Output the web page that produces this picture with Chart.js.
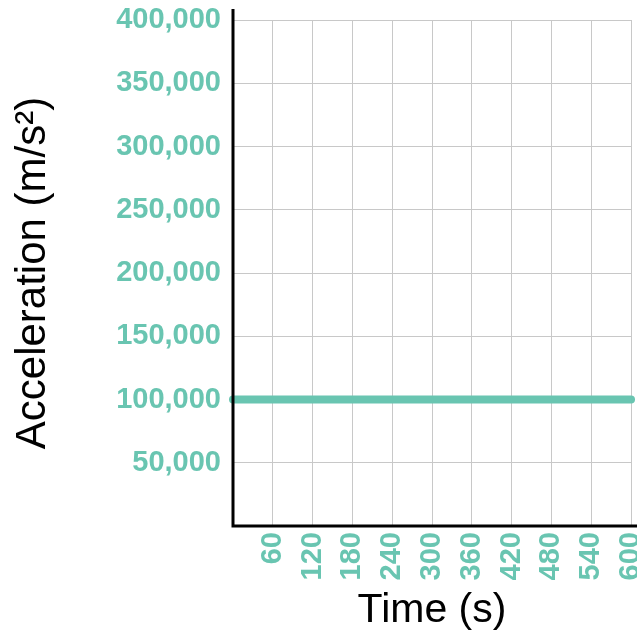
<!DOCTYPE html>
<html>
<head>
<meta charset="utf-8">
<style>
  html, body { margin: 0; padding: 0; background: #ffffff; }
  #wrap { width: 637px; height: 635px; }
</style>
<script src="https://cdn.jsdelivr.net/npm/chart.js@4/dist/chart.umd.min.js"></script>
</head>
<body>
<div id="wrap"><canvas id="chart" width="637" height="635"></canvas></div>
<script>
// Time samples (s) and the constant acceleration (m/s²) at each of them
const timeSeconds = [0, 60, 120, 180, 240, 300, 360, 420, 480, 540, 600];
const acceleration = [100000, 100000, 100000, 100000, 100000, 100000, 100000, 100000, 100000, 100000, 100000];

// Axis ranges and tick spacing
const xRange = [0, 600];
const xStep = 60;
const yRange = [0, 400000];
const yStep = 50000;

const teal = '#69c5b1';
const fontFamily = '"Liberation Sans", Arial, sans-serif';

const points = timeSeconds.map((t, i) => ({ x: t, y: acceleration[i] }));

// Black axis lines: the vertical one runs a little above the top gridline,
// the horizontal one runs out to the right edge of the canvas.
const axisLines = {
  id: 'axisLines',
  afterDraw(chart) {
    const { ctx, chartArea, scales } = chart;
    const x0 = scales.x.getPixelForValue(xRange[0]);
    const y0 = scales.y.getPixelForValue(yRange[0]);
    ctx.save();
    ctx.strokeStyle = '#000000';
    ctx.lineWidth = 3;
    ctx.lineCap = 'butt';
    ctx.beginPath();
    ctx.moveTo(x0, chartArea.top - 11);
    ctx.lineTo(x0, y0 + 1.5);
    ctx.moveTo(x0 - 1.5, y0);
    ctx.lineTo(chart.width, y0);
    ctx.stroke();
    ctx.restore();
  }
};

new Chart(document.getElementById('chart'), {
  type: 'line',
  data: {
    datasets: [{
      data: points,
      borderColor: teal,
      backgroundColor: teal,
      borderWidth: 8,
      borderCapStyle: 'round',
      pointRadius: 0,
      pointHoverRadius: 0,
      tension: 0,
      clip: false
    }]
  },
  options: {
    responsive: false,
    animation: false,
    events: [],
    layout: { padding: { top: 20, right: 6, left: 0, bottom: 0 } },
    plugins: {
      legend: { display: false },
      tooltip: { enabled: false }
    },
    scales: {
      x: {
        type: 'linear',
        min: xRange[0],
        max: xRange[1],
        afterFit(scale) {
          scale.height = 109;
          scale.paddingLeft = 0;
          scale.paddingRight = 0;
        },
        border: { display: false },
        grid: { color: '#c8c8c8', lineWidth: 1, drawTicks: false },
        ticks: {
          stepSize: xStep,
          autoSkip: false,
          maxRotation: 90,
          minRotation: 90,
          padding: 6,
          color: teal,
          font: { family: fontFamily, size: 29, weight: 'bold' },
          callback: (v) => (v === 0 ? '' : String(v))
        },
        title: {
          display: true,
          text: 'Time (s)',
          color: '#000000',
          padding: { top: 0, bottom: 0 },
          font: { family: fontFamily, size: 41, weight: 'normal' }
        }
      },
      y: {
        min: yRange[0],
        max: yRange[1],
        afterFit(scale) {
          scale.width = 233;
          scale.paddingTop = 0;
          scale.paddingBottom = 0;
        },
        border: { display: false },
        grid: { color: '#c8c8c8', lineWidth: 1, drawTicks: false },
        ticks: {
          stepSize: yStep,
          padding: 12,
          color: teal,
          font: { family: fontFamily, size: 29, weight: 'bold' },
          callback: (v) => (v === 0 ? '' : v.toLocaleString('en-US'))
        },
        title: {
          display: true,
          text: 'Acceleration (m/s²)',
          color: '#000000',
          padding: { top: 8, bottom: 0 },
          font: { family: fontFamily, size: 42, weight: 'normal' }
        }
      }
    }
  },
  plugins: [axisLines]
});
</script>
</body>
</html>
